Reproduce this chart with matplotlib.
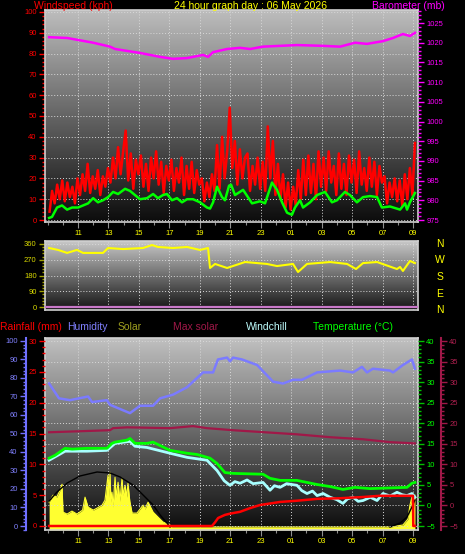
import numpy as np
import matplotlib.pyplot as plt
from matplotlib.colors import LinearSegmentedColormap

plt.rcParams['font.family'] = ['Liberation Sans', 'DejaVu Sans']

# ---- data (time in hours since midnight of the first day) ----
hour_ticks = list(range(11, 34, 2))
hour_labels = ['%02d' % (h % 24) for h in hour_ticks]

gust_start = 9.13
gust = [4, 14, 8, 17, 10, 19,
        9, 18, 11, 16, 8, 20,
        12, 22, 14, 27, 13, 21,
        15, 24, 12, 21, 16, 25,
        18, 30, 20, 35, 22, 33,
        43, 19, 32, 15, 29, 22,
        31, 16, 27, 14, 30, 20,
        33, 17, 28, 13, 26, 19,
        29, 14, 25, 18, 30, 12,
        26, 15, 28, 13, 24, 17,
        20, 9, 18, 11, 22, 14,
        36, 15, 40, 20, 33, 54,
        25, 38, 17, 34, 20, 30,
        32, 14, 26, 17, 30, 15,
        28, 14, 45, 20, 38, 12,
        27, 10, 22, 6, 18, 5,
        16, 7, 24, 10, 29, 12,
        31, 13, 27, 10, 33, 16,
        30, 14, 33, 18, 26, 12,
        32, 15, 27, 12, 31, 18,
        29, 13, 33, 17, 25, 14,
        30, 16, 28, 12, 26, 18,
        21, 8, 18, 11, 20, 9,
        19, 7, 22, 10, 25, 12,
        37]

wind_t = [9.10, 9.29, 9.62, 9.95, 10.28, 10.61, 11.00, 11.33, 11.66, 11.99, 12.31, 12.64,
          12.97, 13.30, 13.63, 14.09, 14.41, 14.74, 15.07, 15.53, 15.93, 16.25, 16.58, 16.84,
          17.17, 17.50, 17.83, 18.16, 18.55, 19.01, 19.47, 19.67, 19.87, 20.13, 20.46, 20.65,
          20.92, 21.05, 21.31, 21.84, 22.43, 22.95, 23.28, 23.74, 24.07, 24.40, 24.73, 25.05,
          25.25, 25.58, 25.78, 26.24, 26.70, 27.22, 27.68, 28.01, 28.53, 28.86, 29.32, 29.72,
          30.18, 30.64, 30.96, 31.49, 32.15, 32.48, 32.61, 32.80, 33.13]
wind_avg = [1, 1.5, 6, 7, 5, 6, 6, 7, 8, 10.5, 8.5, 9.5,
            11, 13.5, 12.5, 15, 14, 12, 10, 10.5, 12.5, 10.5, 12, 12.5,
            9.5, 10.5, 8.5, 10, 10, 8.5, 6, 5.5, 8.5, 16, 11, 9.5,
            16.5, 17, 12, 14.5, 8, 9, 8, 18, 14.5, 8.5, 3.5, 2.5,
            6, 9.5, 6, 8.5, 12, 13.5, 8.5, 9.5, 13.5, 12, 8.5, 11,
            11.5, 11, 6, 6.5, 5, 8, 5, 8.5, 13]

baro_t = [9.10, 10.28, 11.99, 13.10, 13.43, 15.07, 16.39, 17.24, 18.16, 19.21, 19.54, 19.87,
          20.79, 21.64, 22.30, 23.15, 25.38, 27.09, 28.21, 29.19, 29.98, 31.03, 31.69, 32.34,
          32.80, 33.13]
baro = [1021.4, 1021.2, 1020.0, 1019.0, 1018.4, 1017.4, 1016.4, 1015.9, 1016.1, 1016.9, 1016.4, 1017.6,
        1018.4, 1018.7, 1018.4, 1019.0, 1019.4, 1019.2, 1019.0, 1020.0, 1019.7, 1020.4, 1021.2, 1022.2,
        1021.7, 1022.5]

dir_t = [9.10, 9.69, 10.28, 10.93, 11.33, 12.64, 12.97, 13.96, 15.27, 15.86, 16.25, 17.24,
         18.16, 19.01, 19.54, 19.67, 20.00, 20.79, 21.97, 23.41, 24.07, 25.12, 25.45, 26.04,
         27.55, 28.67, 29.26, 29.72, 30.64, 31.95, 32.15, 32.34, 32.80, 33.13]
wind_dir = [337, 326, 309, 326, 309, 309, 337, 331, 337, 354, 343, 337,
            343, 326, 337, 223, 246, 223, 257, 246, 234, 246, 200, 246,
            257, 246, 217, 251, 257, 217, 229, 206, 263, 251]

hum_t = [9.10, 9.75, 10.47, 11.66, 11.92, 12.90, 13.10, 14.41, 15.07, 15.93, 16.39, 17.24,
         18.16, 19.21, 19.87, 20.19, 20.79, 20.98, 21.18, 21.77, 22.76, 23.81, 24.46, 25.12,
         25.71, 26.70, 28.21, 29.06, 29.65, 29.98, 30.37, 31.49, 31.69, 32.34, 32.93, 33.13]
humidity = [77, 69, 68, 70, 67, 68, 65.5, 61, 65, 65, 69, 71,
            75, 83, 83, 90, 91, 89, 91, 90, 87, 78, 77, 79,
            79, 83, 84, 83, 86, 83, 85, 84, 83, 87, 90, 85]

temp_t = [9.10, 9.49, 10.15, 10.61, 11.59, 12.90, 13.23, 13.43, 14.22, 14.41, 14.74, 15.53,
          15.93, 17.04, 18.16, 18.82, 19.67, 20.13, 20.65, 21.18, 23.15, 23.61, 24.27, 25.38,
          26.70, 27.55, 28.40, 29.19, 30.18, 32.61, 32.93, 33.13]
temperature = [11.5, 12.2, 13.9, 13.7, 13.9, 13.9, 15.1, 15.4, 15.9, 16.3, 15.1, 15.1,
               15.4, 13.4, 12.7, 12.4, 11.5, 10.2, 8.0, 7.8, 7.6, 6.6, 6.1, 6.1,
               5.1, 4.6, 3.9, 4.4, 4.1, 4.4, 5.4, 5.6]

chill_t = [9.10, 10.15, 11.59, 12.90, 13.43, 14.41, 14.74, 15.53, 17.04, 18.16, 19.47, 20.13,
           20.60, 20.98, 21.30, 21.64, 22.10, 22.50, 23.15, 23.61, 23.90, 24.27, 24.70, 25.38,
           25.70, 26.04, 26.40, 26.70, 27.10, 27.55, 28.00, 28.40, 28.70, 29.06, 29.40, 29.72,
           30.20, 30.64, 31.03, 31.50, 31.95, 32.30, 32.61, 32.93, 33.13]
windchill = [11.0, 13.2, 13.2, 13.4, 15.1, 15.6, 14.4, 14.1, 12.7, 11.7, 11.0, 8.5,
             6.0, 4.9, 5.8, 5.4, 6.2, 5.3, 5.6, 3.7, 4.8, 4.4, 5.3, 4.9,
             3.6, 2.9, 3.5, 2.4, 2.9, 2.0, 1.4, 0.5, 1.6, 2.0, 1.0, 1.2,
             2.0, 1.2, 2.9, 2.3, 3.2, 2.6, 2.4, 2.9, 2.0]

maxsol_line_t = [9.10, 13.10, 13.30, 14.22, 17.04, 18.55, 19.47, 21.18, 25.38, 27.55, 29.72, 31.49, 33.13]
maxsol_line = [17.8, 18.3, 18.8, 19.0, 18.8, 19.3, 18.8, 18.3, 17.3, 16.6, 16.1, 15.4, 15.1]

rain_t = [9.10, 19.80, 20.00, 20.20, 20.65, 20.98, 21.64, 22.30, 22.95, 24.27, 25.38, 26.70,
          28.21, 29.72, 30.83, 32.80, 33.00, 33.02, 33.13]
rain = [0, 0, 0.6, 1.3, 1.8, 2.0, 2.3, 2.9, 3.4, 3.9, 4.1, 4.4,
        4.5, 4.7, 4.9, 4.9, 4.9, 0, 0]

solar_t = [9.10, 9.36, 9.60, 9.82, 9.95, 10.01, 10.28, 10.60, 10.93, 11.30, 11.46, 11.66,
           12.00, 12.25, 12.58, 12.77, 12.97, 13.03, 13.10, 13.16, 13.23, 13.30, 13.43, 13.50,
           13.63, 13.75, 13.89, 13.96, 14.09, 14.20, 14.28, 14.40, 14.55, 14.87, 15.27, 15.40,
           15.60, 15.93, 16.25, 16.58, 17.04, 17.17, 31.49, 32.34, 32.67, 32.80, 32.93, 33.00,
           33.13]
solar = [250, 320, 300, 370, 430, 150, 130, 160, 130, 170, 300, 200,
         170, 190, 220, 270, 520, 300, 550, 250, 350, 200, 500, 300,
         450, 260, 490, 320, 420, 300, 440, 260, 140, 140, 220, 180,
         250, 150, 100, 50, 20, 0, 0, 20, 80, 220, 300, 150,
         320]

maxsol_am_t = [9.10, 9.62, 10.28, 11.13, 12.25, 13.10, 13.76, 14.61, 15.27, 15.93, 16.39, 16.84, 17.04]
maxsol_am = [261, 352, 442, 513, 553, 543, 503, 422, 322, 221, 121, 40, 0]
maxsol_pm_t = [31.49, 32.15, 32.61, 32.93, 33.13]
maxsol_pm = [0, 40, 100, 201, 271]

# ---- layout ----
W, H = 465, 554
x_lim = (8.83, 33.33)
fig = plt.figure(figsize=(W / 100, H / 100), dpi=100, facecolor='black')


def box(x0, y0, x1, y1):
    return [x0 / W, 1 - y1 / H, (x1 - x0) / W, (y1 - y0) / H]


def backdrop(ax, ylim, top, bottom):
    cmap = LinearSegmentedColormap.from_list('bg', [bottom, top])
    grad = np.linspace(0, 1, 256).reshape(-1, 1)
    ax.imshow(grad, extent=[x_lim[0], x_lim[1], ylim[0], ylim[1]], origin='lower',
              aspect='auto', cmap=cmap, zorder=0, interpolation='bilinear')
    ax.set_xlim(*x_lim)
    ax.set_ylim(*ylim)
    ax.set_facecolor('black')
    for s in ax.spines.values():
        s.set_color('#d0d0d0')
        s.set_linewidth(1.2)


def style_x(ax, labels=True):
    ax.set_xticks(hour_ticks)
    ax.set_xticks(np.arange(9, 34), minor=True)
    ax.set_xticklabels(hour_labels if labels else [])
    ax.tick_params(axis='x', which='major', colors='#909090', length=4, width=0.8,
                   labelcolor='#ffff00', labelsize=5.5, pad=2)
    ax.tick_params(axis='x', which='minor', colors='#909090', length=2.5, width=0.8)
    ax.grid(axis='x', which='major', color='#d8d8d8', ls=(0, (1, 2)), lw=0.7)


def style_y(ax, lim, major, minor, color, lcolor, side='left'):
    ax.set_ylim(*lim)
    ax.set_yticks(np.arange(np.ceil(lim[0] / major) * major, lim[1] + 0.01, major))
    ax.set_yticks(np.arange(np.ceil(lim[0] / minor) * minor, lim[1] + 0.01, minor), minor=True)
    ax.tick_params(axis='y', which='major', colors=color, labelcolor=lcolor, length=4,
                   width=1, labelsize=5.5, pad=2)
    ax.tick_params(axis='y', which='minor', colors=color, length=2, width=1)


hide_ticks = dict(left=False, right=False, labelleft=False, labelright=False)

# ---- top panel: wind speed + barometer ----
ax_w = fig.add_axes(box(45, 10, 418, 222))
backdrop(ax_w, (-0.96, 100.96), '#bdbdbd', '#0c0c0c')
style_x(ax_w)
style_y(ax_w, (-0.96, 100.96), 10, 2, '#ff0000', '#ff0000')
ax_w.grid(axis='y', which='major', color='#d8d8d8', ls=(0, (1, 2)), lw=0.7)
gust_t = gust_start + np.arange(len(gust)) / 6
ax_w.plot(gust_t, gust, color='#ff0000', lw=1.8, zorder=3)
ax_w.plot(wind_t, wind_avg, color='#00ff00', lw=1.8, zorder=4)

ax_b = ax_w.twinx()
for s in ax_b.spines.values():
    s.set_visible(False)
style_y(ax_b, (974.5, 1028.3), 5, 1, '#ff00ff', '#ff00ff')
ax_b.plot(baro_t, baro, color='#ff00ff', lw=1.8)

# ---- middle panel: wind direction ----
ax_d = fig.add_axes(box(45, 241, 418, 310))
backdrop(ax_d, (-17, 377), '#c8c8c8', '#141414')
style_x(ax_d, labels=False)
ax_d.tick_params(axis='x', which='both', length=0)
style_y(ax_d, (-17, 377), 90, 18, '#a0a000', '#d8d800')
ax_d.grid(axis='y', which='major', color='#d8d8d8', ls=(0, (1, 2)), lw=0.7)
ax_d.axhline(0, color='#c878c8', lw=1.6, zorder=3)
ax_d.plot(dir_t, wind_dir, color='#ffff00', lw=1.5, zorder=4)

for letter, y in zip(['N', 'W', 'S', 'E', 'N'], [244, 260, 277, 294, 310]):
    fig.text(440 / W, 1 - y / H, letter, color='#ffff00', fontsize=7.5, ha='center', va='center')

# ---- bottom panel ----
ax_s = fig.add_axes(box(45, 338, 418, 530))
backdrop(ax_s, (-30, 1900), '#c0c0c0', '#0c0c0c')
style_x(ax_s)
ax_s.tick_params(axis='y', which='both', **hide_ticks)
ax_s.fill_between(solar_t, -30, solar, color='#ffff30', lw=0, zorder=2)
ax_s.plot(solar_t, solar, color='#ffff30', lw=0.8, zorder=2)
ax_s.plot(maxsol_am_t, maxsol_am, color='black', lw=1.0, zorder=3)
ax_s.plot(maxsol_pm_t, maxsol_pm, color='black', lw=1.0, zorder=3)

# temperature axis (right) with horizontal grid
ax_t = ax_s.twinx()
for s in ax_t.spines.values():
    s.set_visible(False)
style_y(ax_t, (-5.97, 40.73), 5, 1, '#00c000', '#00ff00')
ax_t.grid(axis='y', which='major', color='#d8d8d8', ls=(0, (1, 2)), lw=0.7)

# crimson axis (right, outward)
ax_c = ax_s.twinx()
for s in ax_c.spines.values():
    s.set_visible(False)
ax_c.spines['right'].set_visible(True)
ax_c.spines['right'].set_position(('outward', 16.5))
ax_c.spines['right'].set_color('#a01848')
ax_c.spines['right'].set_linewidth(1.5)
style_y(ax_c, (-5.97, 40.73), 5, 1, '#a01848', '#b02050')
ax_c.plot(maxsol_line_t, maxsol_line, color='#a01848', lw=1.6, zorder=2)

# rain axis (left)
ax_r = ax_s.twinx()
for s in ax_r.spines.values():
    s.set_visible(False)
ax_r.yaxis.tick_left()
style_y(ax_r, (-0.65, 30.49), 5, 1, '#ff0000', '#ff0000')

# humidity axis (left, outward)
ax_h = ax_s.twinx()
for s in ax_h.spines.values():
    s.set_visible(False)
ax_h.yaxis.tick_left()
ax_h.spines['left'].set_visible(True)
ax_h.spines['left'].set_position(('outward', 13.7))
ax_h.spines['left'].set_color('#7070ff')
ax_h.spines['left'].set_linewidth(1.5)
style_y(ax_h, (-2.16, 101.6), 10, 2, '#7070ff', '#8080ff')
ax_h.plot(hum_t, humidity, color='#7b7bff', lw=1.8)

# lines drawn on top
ax_l = ax_s.twinx()
for s in ax_l.spines.values():
    s.set_visible(False)
ax_l.tick_params(axis='y', which='both', **hide_ticks)
ax_l.set_ylim(-5.97, 40.73)
ax_l.plot(chill_t, windchill, color='#a8ffff', lw=2.0)
ax_l.plot(temp_t, temperature, color='#00ff00', lw=2.0)

ax_rl = ax_s.twinx()
for s in ax_rl.spines.values():
    s.set_visible(False)
ax_rl.tick_params(axis='y', which='both', **hide_ticks)
ax_rl.set_ylim(-0.65, 30.49)
ax_rl.plot(rain_t, rain, color='#ff0000', lw=1.8)

# ---- titles and legend texts ----
fs = 7.5
fig.text(34 / W, 1 - 6 / H, 'Windspeed (kph)', color='#ff0000', fontsize=fs, va='center')
fig.text(250 / W, 1 - 6 / H, '24 hour graph day : 06 May 2026', color='#ffff00', fontsize=fs,
         va='center', ha='center')
fig.text(372 / W, 1 - 6 / H, 'Barometer (mb)', color='#ff00ff', fontsize=fs, va='center')

legend_items = [('Rainfall (mm)', '#ff0000', 0), ('Humidity', '#8080ff', 67),
                ('Solar', '#a0a020', 118), ('Max solar', '#a01848', 173),
                ('Windchill', '#c0ffff', 246), ('Temperature (\u00b0C)', '#00ff00', 313)]
for txt, col, x in legend_items:
    fig.text(x / W, 1 - 327 / H, txt, color=col, fontsize=fs, va='center')

fig.savefig('out.png', dpi=100, facecolor='black')
